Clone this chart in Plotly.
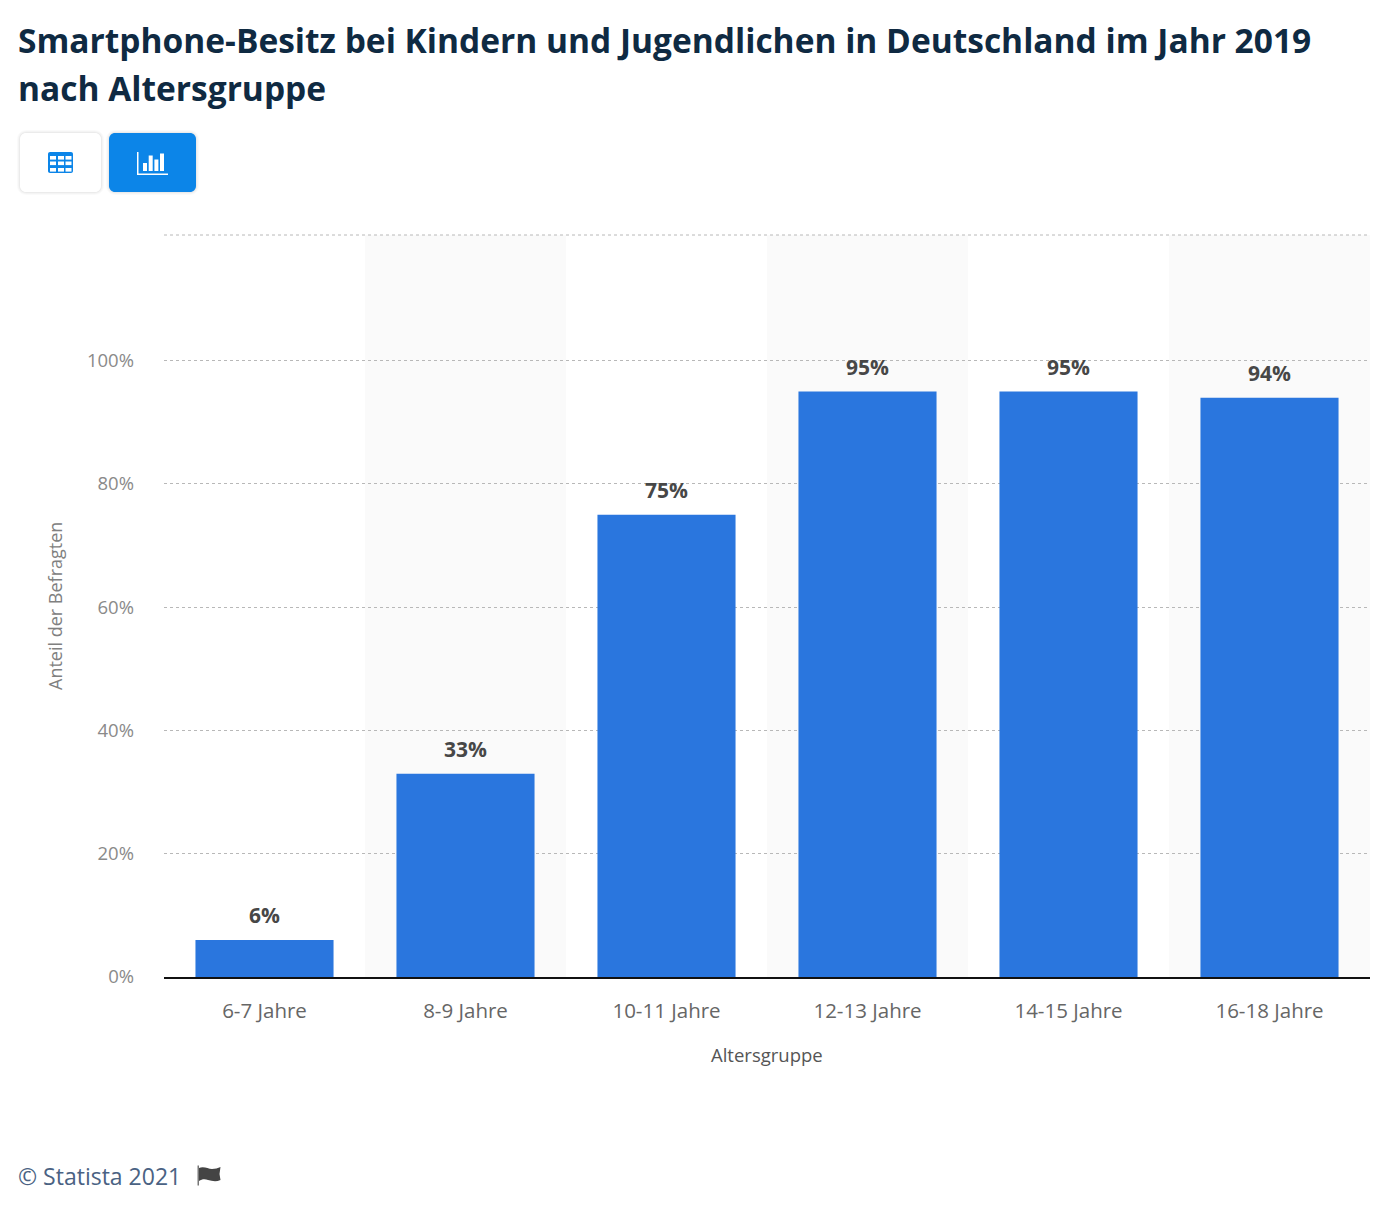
import plotly.graph_objects as go

categories = ["6-7 Jahre", "8-9 Jahre", "10-11 Jahre", "12-13 Jahre", "14-15 Jahre", "16-18 Jahre"]
values = [6, 33, 75, 95, 95, 94]
y_ticks = [0, 20, 40, 60, 80, 100]
title_lines = ["Smartphone-Besitz bei Kindern und Jugendlichen in Deutschland im Jahr 2019", "nach Altersgruppe"]

W, H = 1390, 1220
L, R, T, B = 164, 1370, 235, 977
FONT = "Open Sans"
BAR = "#2a76de"
BTN = "#0c85e8"


def px(x):
    return (x - L) / (R - L)


def py(y):
    return (B - y) / (B - T)


def shape_path(points_path, fill, line=None, lw=0):
    return dict(type="path", xref="paper", yref="paper", path=points_path, fillcolor=fill,
                line=dict(color=line or fill, width=lw), layer="above")


def rrect(x0, y0, x1, y1, r):
    c = 0.45 * r
    pts = [
        f"M{px(x0+r)},{py(y0)}", f"L{px(x1-r)},{py(y0)}",
        f"C{px(x1-c)},{py(y0)} {px(x1)},{py(y0+c)} {px(x1)},{py(y0+r)}",
        f"L{px(x1)},{py(y1-r)}",
        f"C{px(x1)},{py(y1-c)} {px(x1-c)},{py(y1)} {px(x1-r)},{py(y1)}",
        f"L{px(x0+r)},{py(y1)}",
        f"C{px(x0+c)},{py(y1)} {px(x0)},{py(y1-c)} {px(x0)},{py(y1-r)}",
        f"L{px(x0)},{py(y0+r)}",
        f"C{px(x0)},{py(y0+c)} {px(x0+c)},{py(y0)} {px(x0+r)},{py(y0)}", "Z",
    ]
    return " ".join(pts)


fig = go.Figure(go.Bar(x=categories, y=values, width=0.687, marker=dict(color=BAR, line=dict(width=0)),
                       hoverinfo="x+y"))

shapes = []
# alternating stripes
for i in (1, 3, 5):
    shapes.append(dict(type="rect", xref="x", yref="paper", x0=i - 0.5, x1=i + 0.5, y0=0, y1=1,
                       fillcolor="#fafafa", line=dict(width=0), layer="below"))
# top dotted border
shapes.append(dict(type="line", xref="paper", yref="paper", x0=0, x1=1, y0=1, y1=1,
                   line=dict(color="#b8b8b8", width=1, dash="dot"), layer="below"))

# button shadows and faces
for g, a in ((3, 0.018), (2, 0.025), (1, 0.035)):
    shapes.append(shape_path(rrect(20 - g, 133 - g, 101 + g, 192 + g, 6 + g), f"rgba(0,0,0,{a})"))
    shapes.append(shape_path(rrect(109 - g, 133 - g, 196 + g, 192 + g, 6 + g), f"rgba(0,0,0,{a})"))
shapes.append(shape_path(rrect(20, 133, 101, 192, 6), "#ffffff"))
shapes.append(shape_path(rrect(109, 133, 196, 192, 6), BTN))

# table icon
shapes.append(shape_path(rrect(48, 152, 73, 173, 2), BTN))
for cx in (50, 58, 65.5):
    for cy in (156, 161.5, 168):
        shapes.append(dict(type="rect", xref="paper", yref="paper", x0=px(cx), x1=px(cx + 6),
                           y0=py(cy + 3.6), y1=py(cy), fillcolor="#ffffff", line=dict(width=0), layer="above"))

# chart icon
shapes.append(dict(type="rect", xref="paper", yref="paper", x0=px(137), x1=px(138.5), y0=py(175), y1=py(152),
                   fillcolor="#ffffff", line=dict(width=0), layer="above"))
shapes.append(dict(type="rect", xref="paper", yref="paper", x0=px(137), x1=px(168), y0=py(175), y1=py(173.5),
                   fillcolor="#ffffff", line=dict(width=0), layer="above"))
for x0, top in ((143, 163), (148.7, 155.5), (154.4, 159.5), (160, 153.5)):
    shapes.append(dict(type="rect", xref="paper", yref="paper", x0=px(x0), x1=px(x0 + 4), y0=py(171), y1=py(top),
                       fillcolor="#ffffff", line=dict(width=0), layer="above"))

# flag icon
shapes.append(dict(type="rect", xref="paper", yref="paper", x0=px(197.5), x1=px(199), y0=py(1185.5), y1=py(1165.5),
                   fillcolor="#777777", line=dict(width=0), layer="above"))
flag = (f"M{px(199)},{py(1168)} C{px(204)},{py(1166)} {px(208)},{py(1169)} {px(212)},{py(1169)} "
        f"C{px(215)},{py(1169)} {px(218)},{py(1168)} {px(220.5)},{py(1167)} "
        f"L{px(219.5)},{py(1174)} L{px(220.5)},{py(1180)} C{px(216)},{py(1182)} {px(212)},{py(1181)} {px(208)},{py(1180)} "
        f"C{px(205)},{py(1179)} {px(202)},{py(1179)} {px(199)},{py(1181)} Z")
shapes.append(shape_path(flag, "#444444"))

annotations = []
for cat, v in zip(categories, values):
    annotations.append(dict(x=cat, y=v, text=f"{v}%", showarrow=False, yanchor="bottom", yshift=9,
                            font=dict(family=FONT, size=21, color="#474747", weight=700)))

for line, yy in zip(title_lines, (40, 88)):
    annotations.append(dict(xref="paper", yref="paper", x=px(16), y=py(yy), xanchor="left", yanchor="middle",
                            text=line, showarrow=False,
                            font=dict(family=FONT, size=33.5, color="#0f2a42", weight=700)))

annotations.append(dict(xref="paper", yref="paper", x=px(767), y=py(1054), text="Altersgruppe", showarrow=False,
                        yanchor="middle", font=dict(family=FONT, size=18.5, color="#555555")))
annotations.append(dict(xref="paper", yref="paper", x=px(55), y=py(606), text="Anteil der Befragten", showarrow=False,
                        textangle=-90, xanchor="center", yanchor="middle",
                        font=dict(family=FONT, size=18, color="#808080")))
annotations.append(dict(xref="paper", yref="paper", x=px(16), y=py(1176), text="© Statista 2021", showarrow=False,
                        xanchor="left", yanchor="middle", font=dict(family=FONT, size=23, color="#4a6283")))

fig.update_layout(
    width=W, height=H, autosize=False, showlegend=False,
    margin=dict(l=L, r=W - R, t=T, b=H - B, pad=0),
    paper_bgcolor="#ffffff", plot_bgcolor="#ffffff",
    bargap=0.3, shapes=shapes, annotations=annotations,
    xaxis=dict(type="category", range=[-0.5, 5.5], tickfont=dict(family=FONT, size=20.5, color="#666666"),
               showline=True, linecolor="#111111", linewidth=2, ticks="", showgrid=False, zeroline=False,
               ticklabelstandoff=14, fixedrange=True),
    yaxis=dict(range=[0, 120.4], tickvals=y_ticks, ticktext=[f"{t}%" for t in y_ticks],
               tickfont=dict(family=FONT, size=18.5, color="#8a8a8a"),
               showgrid=True, gridcolor="#b8b8b8", griddash="dot", gridwidth=1, zeroline=False,
               showline=False, ticks="", ticklabelstandoff=29, fixedrange=True),
)

fig.write_html("out.html", config={"displayModeBar": False},
               post_script="document.body.style.margin='0';document.documentElement.style.overflow='hidden';")
